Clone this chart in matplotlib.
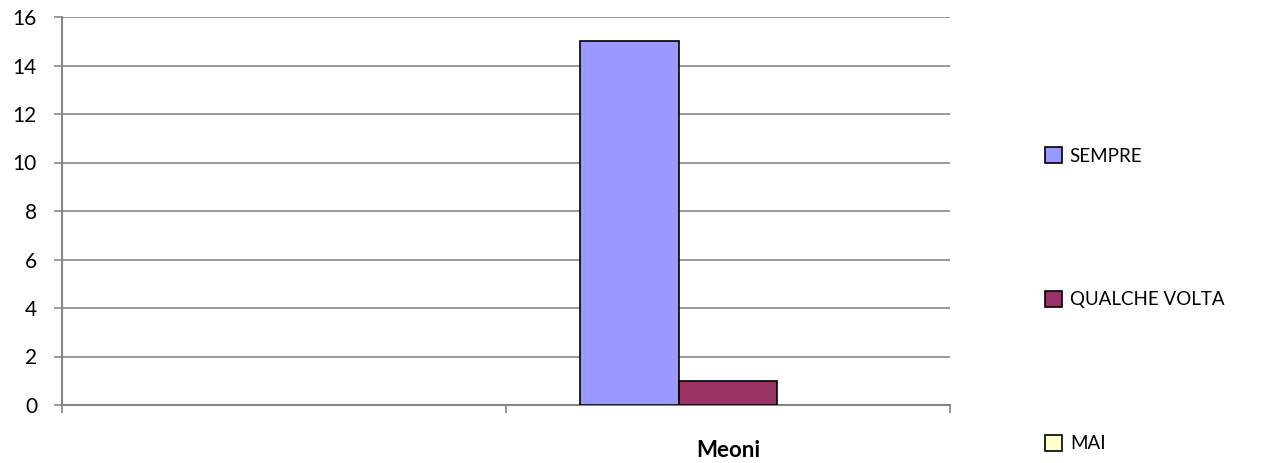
import numpy as np
import matplotlib.pyplot as plt
from matplotlib.patches import Patch

categories = ["", "Meoni"]
series_names = ["SEMPRE", "QUALCHE VOLTA", "MAI"]
sempre = [0, 15]
qualche_volta = [0, 1]
mai = [0, 0]
colors = ["#9999FF", "#993366", "#FFFFCC"]
y_ticks = [0, 2, 4, 6, 8, 10, 12, 14, 16]

plt.rcParams["font.family"] = ["Lato", "DejaVu Sans"]
grey = "#868686"

fig = plt.figure(figsize=(12.69, 4.63), dpi=100)
ax = fig.add_axes([62 / 1269, 58 / 463, 888 / 1269, 388 / 463])

centers = np.arange(len(categories)) + 0.5
bar_w = 1 / (3 + 1.5)
values = [sempre, qualche_volta, mai]
for i, (name, vals) in enumerate(zip(series_names, values)):
    xs = centers + (i - 1) * bar_w
    for x, v in zip(xs, vals):
        if v > 0:
            ax.bar(x, v, width=bar_w, color=colors[i], edgecolor="black",
                   linewidth=1.2, zorder=3)

ax.set_xlim(0, len(categories))
ax.set_ylim(0, 16)
ax.set_yticks(y_ticks)
ax.yaxis.grid(True, color=grey, linewidth=1.2, zorder=0)
ax.set_axisbelow(True)

ax.set_xticks(np.arange(len(categories) + 1))
ax.set_xticklabels([])
ax.set_xticks(centers, minor=True)
ax.set_xticklabels(categories, minor=True, fontweight="bold", fontsize=16)
ax.tick_params(axis="x", which="minor", length=0, pad=25)
ax.tick_params(axis="x", which="major", length=6, width=1.2, color=grey)
ax.tick_params(axis="y", length=6, width=1.2, color=grey, labelsize=15, pad=12)

for s in ["top", "right"]:
    ax.spines[s].set_visible(False)
for s in ["left", "bottom"]:
    ax.spines[s].set_color(grey)
    ax.spines[s].set_linewidth(1.5)

handles = [Patch(facecolor=c, edgecolor="black", linewidth=1.2) for c in colors]
fig.legend(handles, series_names, loc="upper left",
           bbox_to_anchor=(1036 / 1269, 1 - 138 / 463), frameon=False,
           fontsize=13.5, labelspacing=6.75, handlelength=0.9, handleheight=0.9,
           handletextpad=0.4, borderpad=0)

fig.savefig("out.png", dpi=100)
